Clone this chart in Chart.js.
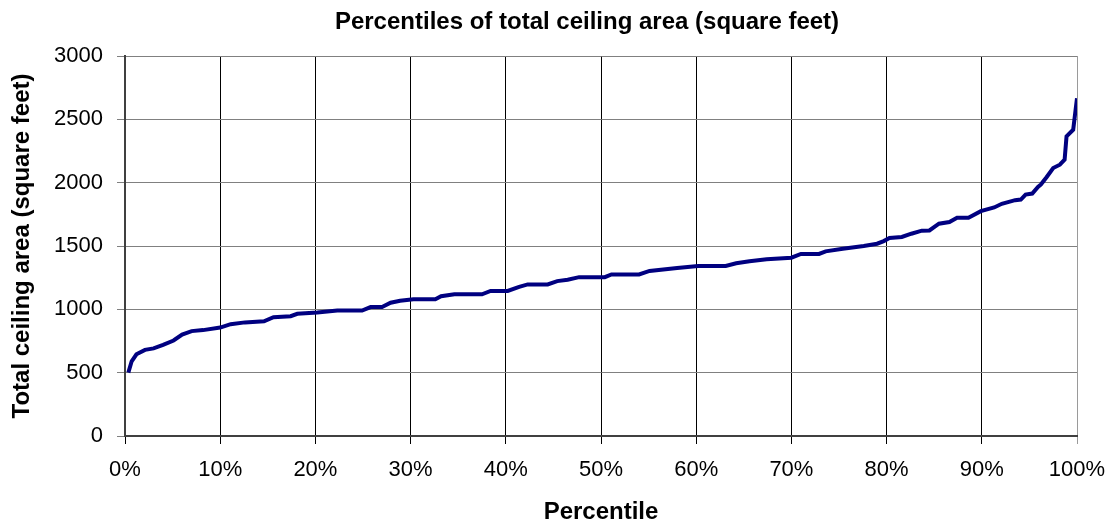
<!DOCTYPE html>
<html>
<head>
<meta charset="utf-8">
<title>Percentiles of total ceiling area</title>
<script src="https://cdn.jsdelivr.net/npm/chart.js@4.4.1/dist/chart.umd.min.js"></script>
<style>
  html, body { margin: 0; padding: 0; background: #fff; }
  #wrap { width: 1112px; height: 525px; position: relative; }
</style>
</head>
<body>
<div id="wrap"><canvas id="chart"></canvas></div>
<script>
// percentile (%) and total ceiling area (sq ft)
const percentiles = [
  0.35, 0.7, 1.2, 2.1, 3.0, 4.0, 5.1, 6.0, 7.0, 8.2,
  10.0, 11.1, 12.6, 14.6, 15.6, 17.4, 18.1, 20.2, 22.3, 24.9,
  25.8, 27.0, 27.9, 28.9, 30.3, 32.6, 33.2, 34.6, 37.5, 38.4,
  40.2, 41.4, 42.3, 44.4, 45.4, 46.5, 47.7, 50.4, 51.1, 54.0,
  55.1, 58.0, 60.2, 63.1, 64.2, 65.6, 67.4, 70.0, 71.0, 72.9,
  73.6, 75.4, 77.6, 79.0, 79.7, 80.3, 81.6, 82.6, 83.7, 84.5,
  85.5, 86.6, 87.4, 88.6, 89.9, 91.3, 92.1, 93.5, 94.1, 94.6,
  95.3, 95.9, 96.2, 96.8, 97.5, 98.2, 98.7, 98.9, 99.6, 100.0
];
const ceilingArea = [
  500, 590, 645, 680, 692, 719, 754, 801, 828, 836,
  856, 883, 897, 905, 938, 946, 965, 975, 990, 990,
  1018, 1018, 1052, 1068, 1080, 1080, 1103, 1119, 1119, 1145,
  1145, 1177, 1197, 1197, 1223, 1233, 1254, 1254, 1275, 1275,
  1303, 1327, 1343, 1343, 1364, 1379, 1395, 1408, 1437, 1437,
  1458, 1479, 1500, 1518, 1539, 1563, 1571, 1597, 1621, 1623,
  1676, 1689, 1723, 1723, 1775, 1804, 1833, 1862, 1867, 1906,
  1914, 1967, 1985, 2043, 2116, 2142, 2182, 2365, 2418, 2667
];
const xTicks = [0, 10, 20, 30, 40, 50, 60, 70, 80, 90, 100];
const yTicks = [0, 500, 1000, 1500, 2000, 2500, 3000];

const FONT = "'Liberation Sans', Arial, sans-serif";

// centre the chart title over the plot area, like the original
const centreTitle = {
  id: 'centreTitle',
  afterLayout(chart) {
    const t = chart.titleBlock;
    if (!t) return;
    const a = chart.chartArea;
    const half = Math.min(a.left + a.right, 2 * chart.width - a.left - a.right) / 2;
    const mid = (a.left + a.right) / 2 - 14;
    t.left = mid - half;
    t.right = mid + half;
  }
};

new Chart(document.getElementById('chart'), {
  type: 'line',
  data: {
    datasets: [{
      data: percentiles.map((p, i) => ({ x: p, y: ceilingArea[i] })),
      borderColor: '#000080',
      borderWidth: 4,
      pointRadius: 0,
      tension: 0,
      fill: false
    }]
  },
  plugins: [centreTitle],
  options: {
    responsive: true,
    maintainAspectRatio: false,
    animation: false,
    layout: { padding: { left: 0, right: 35, top: 0, bottom: 0 } },
    plugins: {
      legend: { display: false },
      tooltip: { enabled: false },
      title: {
        display: true,
        text: 'Percentiles of total ceiling area (square feet)',
        color: '#000',
        font: { family: FONT, size: 24, weight: 'bold', lineHeight: 1.2 },
        padding: { top: 7.6, bottom: 19.6 }
      }
    },
    scales: {
      x: {
        type: 'linear',
        min: 0, max: 100,
        afterBuildTicks: s => { s.ticks = xTicks.map(v => ({ value: v })); },
        afterFit: s => { s.height = 89; s.paddingLeft = 0; s.paddingRight = 0; },
        ticks: {
          color: '#000',
          font: { family: FONT, size: 22 },
          padding: 12.8,
          maxRotation: 0,
          callback: v => v + '%'
        },
        grid: {
          color: ctx => (ctx.tick && ctx.tick.value === 100) ? '#9a9a9a' : '#000',
          lineWidth: 1,
          tickLength: 8
        },
        border: { color: '#404040', width: 2 },
        title: {
          display: true,
          text: 'Percentile',
          color: '#000',
          font: { family: FONT, size: 24, weight: 'bold', lineHeight: 1 },
          padding: { top: 0, bottom: 1 }
        }
      },
      y: {
        min: 0, max: 3000,
        afterBuildTicks: s => { s.ticks = yTicks.map(v => ({ value: v })); },
        afterFit: s => { s.width = 125; },
        ticks: {
          color: '#000',
          font: { family: FONT, size: 22 },
          padding: 14,
          callback: v => String(v)
        },
        grid: { color: '#808080', lineWidth: 1, tickLength: 8 },
        border: { color: '#404040', width: 2 },
        title: {
          display: true,
          text: 'Total ceiling area (square feet)',
          color: '#000',
          font: { family: FONT, size: 24, weight: 'bold', lineHeight: 1 },
          padding: { top: 10, bottom: 0 }
        }
      }
    }
  }
});
</script>
</body>
</html>
